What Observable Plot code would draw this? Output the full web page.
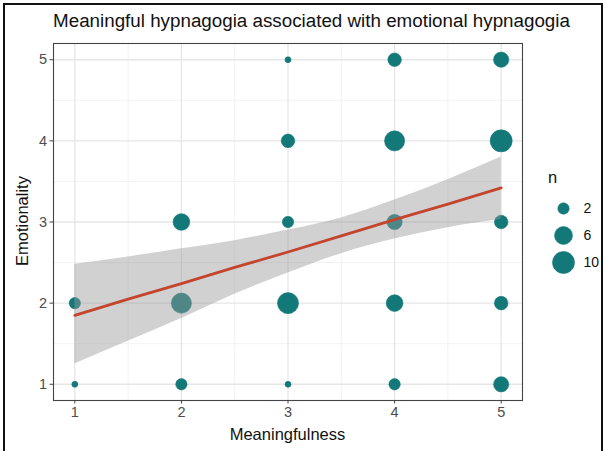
<!DOCTYPE html>
<html>
<head>
<meta charset="utf-8">
<script src="https://cdn.jsdelivr.net/npm/d3@7"></script>
<script src="https://cdn.jsdelivr.net/npm/@observablehq/plot@0.6"></script>
<style>
  body { margin: 0; background: #fff; font-family: "Liberation Sans", Arial, sans-serif; }
  #fig { position: relative; width: 611px; height: 451px; overflow: hidden; background: #fff; }
  #border { position: absolute; left: 3px; top: 3px; width: 600px; height: 470px; border: 2px solid #111; box-sizing: border-box; }
  #title { position: absolute; left: 0; width: 623px; top: 10px; text-align: center; font-size: 18.8px; color: #111; }
  #xlab { position: absolute; left: 53px; width: 469px; top: 425px; text-align: center; font-size: 16.5px; color: #111; }
  #ylab { position: absolute; left: 22px; top: 221px; font-size: 16.5px; color: #111; transform: translate(-50%, -50%) rotate(-90deg); white-space: nowrap; }
  #chart { position: absolute; left: 0; top: 0; }
  #legend { position: absolute; left: 540px; top: 168px; }
  #legend .ttl { font-size: 16.5px; color: #111; margin-left: 8px; height: 22px; }
</style>
</head>
<body>
<div id="fig">
  <div id="chart"></div>
  <div id="title">Meaningful hypnagogia associated with emotional hypnagogia</div>
  <div id="xlab">Meaningfulness</div>
  <div id="ylab">Emotionality</div>
  <div id="legend"><div class="ttl">n</div><div id="legendKeys"></div></div>
  <div id="border"></div>
</div>
<script>
// Response counts for each (meaningfulness, emotionality) pair
const meaningfulness = [1, 1, 2, 2, 2, 3, 3, 3, 3, 3, 4, 4, 4, 4, 4, 5, 5, 5, 5, 5];
const emotionality   = [1, 2, 1, 2, 3, 1, 2, 3, 4, 5, 1, 2, 3, 4, 5, 1, 2, 3, 4, 5];
const counts         = [1, 2, 2, 8, 5, 1, 9, 2, 3, 1, 2, 5, 4, 8, 3, 4, 3, 3, 10, 4];

// Linear fit with its 95% confidence band
const fitX     = [1, 1.5, 2, 2.5, 3, 3.5, 4, 4.5, 5];
const fitY     = [1.85, 2.05, 2.24, 2.44, 2.63, 2.83, 3.03, 3.22, 3.42];
const fitLower = [1.25, 1.53, 1.81, 2.11, 2.37, 2.61, 2.79, 2.93, 3.03];
const fitUpper = [2.48, 2.57, 2.67, 2.77, 2.90, 3.05, 3.27, 3.52, 3.80];

// Axis ticks and size legend breaks
const majorTicks = [1, 2, 3, 4, 5];
const minorTicks = [1.5, 2.5, 3.5, 4.5];
const sizeBreaks = [2, 6, 10];

const points = meaningfulness.map((m, i) => ({m, e: emotionality[i], n: counts[i]}));
const band = fitX.map((x, i) => ({x, fit: fitY[i], lo: fitLower[i], hi: fitUpper[i]}));

const teal = "#137878";
const red = "#c4452e";
const tickGrey = "#4d4d4d";
const font = "'Liberation Sans', Arial, sans-serif";

// Point area grows with n (sqrt of count above the minimum)
const rScale = {type: "linear", transform: n => Math.sqrt(n - 1), domain: [0, 3], range: [3, 11]};

const plot = Plot.plot({
  width: 611,
  height: 451,
  marginLeft: 53,
  marginRight: 89,
  marginTop: 43,
  marginBottom: 51,
  style: {fontFamily: font, background: "transparent", overflow: "visible"},
  x: {domain: [0.8, 5.2]},
  y: {domain: [0.8, 5.2]},
  r: rScale,
  marks: [
    Plot.gridX(minorTicks, {stroke: "#ececec", strokeOpacity: 1, strokeWidth: 0.7}),
    Plot.gridY(minorTicks, {stroke: "#ececec", strokeOpacity: 1, strokeWidth: 0.7}),
    Plot.gridX(majorTicks, {stroke: "#e6e6e6", strokeOpacity: 1, strokeWidth: 1.3}),
    Plot.gridY(majorTicks, {stroke: "#e6e6e6", strokeOpacity: 1, strokeWidth: 1.3}),
    Plot.dot(points, {x: "m", y: "e", r: "n", fill: teal, stroke: teal, strokeWidth: 0.6}),
    Plot.areaY(band, {x: "x", y1: "lo", y2: "hi", fill: "#9a9a9a", fillOpacity: 0.45, curve: "monotone-x"}),
    Plot.lineY(band, {x: "x", y: "fit", stroke: red, strokeWidth: 2.8}),
    Plot.frame({stroke: "#444", strokeWidth: 1.1}),
    Plot.axisX(majorTicks, {label: null, tickFormat: "d", tickSize: 3.5, tickPadding: 3, fontSize: 14.5, stroke: "#444", fill: tickGrey}),
    Plot.axisY(majorTicks, {label: null, tickFormat: "d", tickSize: 3.5, tickPadding: 3, fontSize: 14.5, stroke: "#444", fill: tickGrey})
  ]
});
document.getElementById("chart").append(plot);

// Size legend keys drawn with the same radius scale
const legend = Plot.plot({
  width: 70,
  height: 92,
  margin: 0,
  style: {fontFamily: font, background: "transparent", overflow: "visible"},
  y: {type: "point", domain: sizeBreaks, range: [17, 72], padding: 0, axis: null},
  r: rScale,
  marks: [
    Plot.dot(sizeBreaks, {y: d => d, r: d => d, fill: teal, stroke: teal, strokeWidth: 0.6, frameAnchor: "left", dx: 23}),
    Plot.text(sizeBreaks, {y: d => d, text: d => d, frameAnchor: "left", dx: 43, textAnchor: "start", fontSize: 14, fill: "#111"})
  ]
});
document.getElementById("legendKeys").append(legend);
</script>
</body>
</html>
